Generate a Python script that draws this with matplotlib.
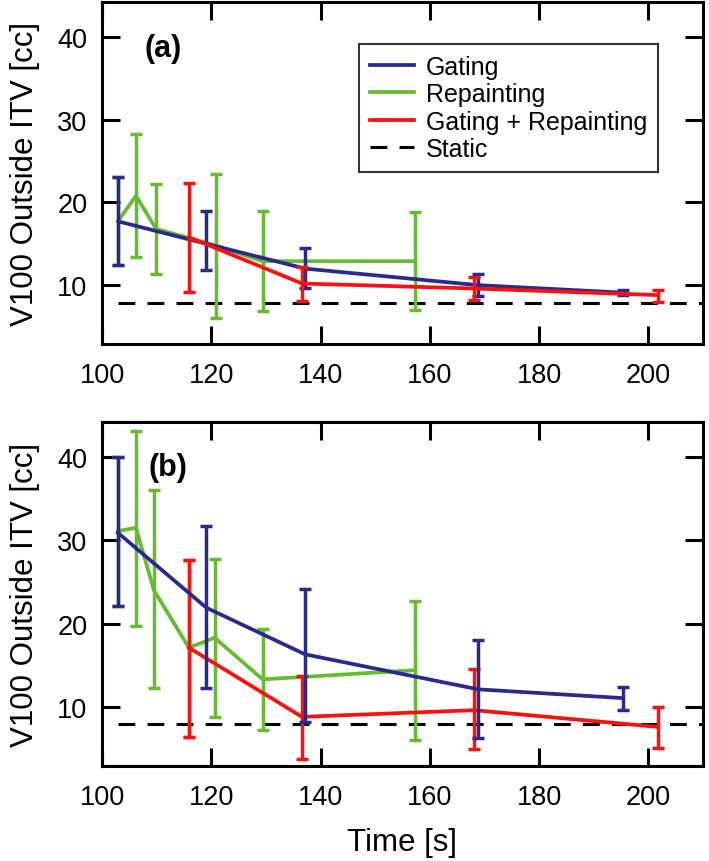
import matplotlib
matplotlib.use("Agg")
import matplotlib.pyplot as plt

plt.rcParams['font.family'] = ['Liberation Sans', 'DejaVu Sans']

# ---------------- data ----------------
static_level = 7.9
static_x = [103, 210]

# Panel (a)
a_gating_t = [103.0, 119.1, 137.2, 168.9, 195.4]
a_gating_v = [17.7, 15.0, 12.0, 10.0, 9.1]
a_gating_lo = [12.4, 11.8, 9.6, 8.7, 8.8]
a_gating_hi = [23.1, 19.0, 14.5, 11.4, 9.4]

a_repaint_t = [103.0, 106.2, 109.9, 120.8, 129.4, 157.2]
a_repaint_v = [17.8, 20.8, 16.8, 14.8, 12.9, 12.9]
a_repaint_lo = [12.4, 13.4, 11.4, 6.0, 6.9, 6.95]
a_repaint_hi = [23.1, 28.3, 22.2, 23.4, 19.0, 18.8]

a_both_t = [115.9, 136.6, 168.1, 201.8]
a_both_v = [15.8, 10.2, 9.6, 8.8]
a_both_lo = [9.2, 8.1, 8.2, 8.0]
a_both_hi = [22.4, 12.2, 11.0, 9.4]

# Panel (b)
b_gating_t = [102.9, 119.1, 137.2, 168.9, 195.4]
b_gating_v = [30.9, 21.9, 16.3, 12.1, 11.05]
b_gating_lo = [22.1, 12.3, 8.2, 6.3, 9.6]
b_gating_hi = [40.0, 31.7, 24.1, 18.0, 12.4]

b_repaint_t = [102.9, 106.2, 109.5, 115.9, 120.6, 129.4, 157.2]
b_repaint_v = [31.1, 31.5, 24.0, 17.1, 18.3, 13.3, 14.4]
b_repaint_lo = [22.1, 19.7, 12.3, 6.4, 8.8, 7.2, 6.0]
b_repaint_hi = [40.0, 43.1, 36.0, 27.6, 27.8, 19.3, 22.7]

b_both_t = [115.9, 136.6, 168.1, 201.7]
b_both_v = [17.1, 8.8, 9.6, 7.6]
b_both_lo = [6.4, 3.8, 5.0, 5.1]
b_both_hi = [27.6, 13.7, 14.55, 10.0]

labels = ["Gating", "Repainting", "Gating + Repainting", "Static"]
c_blue = "#2a2a8e"
c_green = "#66bb33"
c_red = "#ff1010"

xticks = [100, 120, 140, 160, 180, 200]
yticks = [10, 20, 30, 40]

fig = plt.figure(figsize=(7.09, 8.62), dpi=100)
ax_a = fig.add_axes([0.1439, 0.5998, 0.8476, 0.3967])
ax_b = fig.add_axes([0.1439, 0.1102, 0.8476, 0.3991])

lw = 2.7

def draw(ax, series, tag, tag_xy):
    handles = []
    for (t, v, lo, hi, col, lab, z) in series:
        yerr = [[vi - l for vi, l in zip(v, lo)], [h - vi for vi, h in zip(v, hi)]]
        ax.errorbar(t, v, yerr=yerr, color=col, lw=lw, elinewidth=2.5,
                    capsize=4.5, capthick=2.5, zorder=z)
        h, = ax.plot([], [], color=col, lw=lw, label=lab)
        handles.append(h)
    hs, = ax.plot(static_x, [static_level, static_level], color='black', lw=2.2,
                  dashes=(5.5, 4.0), zorder=1, label=labels[3])
    handles.append(hs)
    ax.set_xlim(100, 210)
    ax.set_ylim(2.9, 44.2)
    ax.set_xticks(xticks)
    ax.set_yticks(yticks)
    ax.tick_params(direction='in', length=13, width=2.2, labelsize=19.5,
                   top=True, right=True, colors='black')
    ax.tick_params(axis='y', pad=10.5)
    ax.tick_params(axis='x', pad=13)
    ax.minorticks_off()
    for s in ax.spines.values():
        s.set_linewidth(2.2)
    ax.set_ylabel("V100 Outside ITV [cc]", fontsize=22.5, labelpad=12.5)
    ax.text(tag_xy[0], tag_xy[1], tag, transform=ax.transAxes, fontsize=22,
            fontweight='bold', ha='center', va='center')
    return handles

ha = draw(ax_a, [
    (a_repaint_t, a_repaint_v, a_repaint_lo, a_repaint_hi, c_green, labels[1], 2),
    (a_gating_t, a_gating_v, a_gating_lo, a_gating_hi, c_blue, labels[0], 3),
    (a_both_t, a_both_v, a_both_lo, a_both_hi, c_red, labels[2], 4),
], "(a)", (0.1015, 0.866))
draw(ax_b, [
    (b_repaint_t, b_repaint_v, b_repaint_lo, b_repaint_hi, c_green, labels[1], 2),
    (b_both_t, b_both_v, b_both_lo, b_both_hi, c_red, labels[2], 3),
    (b_gating_t, b_gating_v, b_gating_lo, b_gating_hi, c_blue, labels[0], 4),
], "(b)", (0.11, 0.870))

leg_h = [ha[1], ha[0], ha[2], ha[3]]
leg = ax_a.legend(leg_h, labels, loc='upper right', bbox_to_anchor=(0.925, 0.877),
                  borderaxespad=0, fontsize=18, frameon=True, fancybox=False,
                  handlelength=1.75, handletextpad=0.5, labelspacing=0.14,
                  borderpad=0.42)
leg.get_frame().set_edgecolor('black')
leg.get_frame().set_linewidth(1.5)

ax_b.set_xlabel("Time [s]", fontsize=22.5, labelpad=12)

fig.savefig("out.png", dpi=100)
